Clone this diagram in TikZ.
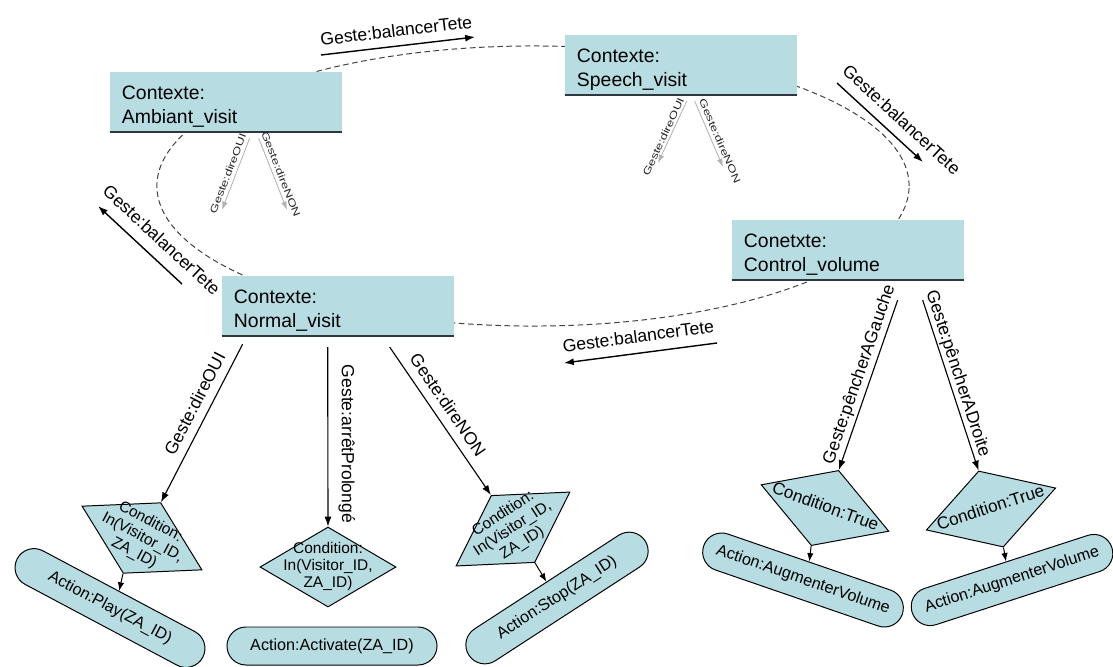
\documentclass[tikz,border=0pt]{standalone}
\usepackage{fontspec}
\setmainfont{Liberation Sans}
\newfontfamily\widefont[FakeStretch=1.35]{Liberation Sans}
\usetikzlibrary{arrows.meta,shapes.geometric}
\definecolor{ctxfill}{RGB}{183,221,227}
\definecolor{ctxrule}{RGB}{45,55,60}
\newcommand{\flattext}[1]{\smash{\raisebox{-0.25em}{\makebox[0pt]{\begin{tabular}{@{}c@{}}#1\end{tabular}}}}}
\newcommand{\ctxlabel}[2]{\rule{0pt}{16pt}#1\\#2}
\tikzset{ctxbox/.style={rectangle, fill=ctxfill, minimum width=5.8cm, minimum height=1.4cm, text width=5.2cm, inner xsep=0.3cm, align=left, font=\fontsize{13.8}{17}\selectfont},
 ctxline/.style={draw=ctxrule, line width=1.6pt},
 cyclepath/.style={draw=black!75, line width=0.7pt, dash pattern=on 4pt off 2.5pt},
 condshape/.style={diamond, draw=black, line width=0.7pt, fill=ctxfill, inner sep=0pt, minimum width=3.4cm, minimum height=2cm, font=\fontsize{11}{12.4}\selectfont},
 truecond/.style={condshape, font=\fontsize{12.2}{14}\selectfont},
 actshape/.style={rectangle, rounded corners=0.475cm, draw=black, line width=0.7pt, fill=ctxfill, minimum width=5.25cm, minimum height=0.95cm, inner xsep=2pt, inner ysep=1pt, font=\fontsize{11.5}{13}\selectfont},
 gesture/.style={draw=black, line width=0.8pt, -{Latex[length=7pt,width=5pt]}},
 balance/.style={gesture, line width=1pt},
 short/.style={draw=black, line width=0.7pt, -{Latex[length=6pt,width=4.5pt]}},
 faint/.style={draw=black!30, line width=0.6pt, -{Latex[length=6pt,width=4pt]}},
 gestlbl/.style={sloped, inner sep=1pt, font=\fontsize{12.5}{14}\selectfont},
 faintlbl/.style={sloped, inner sep=0.5pt, text=black!85, font=\widefont\fontsize{7}{8}\selectfont}}
\begin{document}
\begin{tikzpicture}[x=0.025cm, y=-0.025cm]
  \useasboundingbox (0,0) rectangle (1113,666);
  % ring of contexts
  \draw[cyclepath] (533,186) ellipse [x radius=9.4cm, y radius=3.5cm];
  \node[ctxbox] (ambiant) at (226,102) {\ctxlabel{Contexte:}{Ambiant\_visit}};
  \node[ctxbox] (speech) at (681,65) {\ctxlabel{Contexte:}{Speech\_visit}};
  \node[ctxbox] (control) at (848,250) {\ctxlabel{Conetxte:}{Control\_volume}};
  \node[ctxbox] (normal) at (338,306) {\ctxlabel{Contexte:}{Normal\_visit}};
  \foreach \c in {ambiant,speech,control,normal}
    \draw[ctxline] (\c.south west) -- (\c.south east);
  % conditions
  \node[condshape, rotate=-28] (condOui) at (142,538) {\flattext{Condition:\\In(Visitor\_ID,\\ZA\_ID)}};
  \node[condshape] (condProl) at (328,567) {\flattext{Condition:\\In(Visitor\_ID,\\ZA\_ID)}};
  \node[condshape, rotate=33] (condNon) at (513,529) {\flattext{Condition:\\In(Visitor\_ID,\\ZA\_ID)}};
  \node[truecond, rotate=-20] (condGauche) at (825,508) {\flattext{Condition:True}};
  \node[truecond, rotate=18] (condDroite) at (991,509) {\flattext{Condition:True}};
  % actions
  \node[actshape, rotate=-28] (actPlay) at (110,608) {Action:Play(ZA\_ID)};
  \node[actshape] (actActivate) at (332,646) {Action:Activate(ZA\_ID)};
  \node[actshape, rotate=33] (actStop) at (557,598) {Action:Stop(ZA\_ID)};
  \node[actshape, rotate=-19] (actGauche) at (803,580) {Action:AugmenterVolume};
  \node[actshape, rotate=18] (actDroite) at (1012,580) {Action:AugmenterVolume};
  % gestures of Normal_visit and Control_volume
  \draw[gesture] ([shift={(21,8)}]normal.south west) -- (condOui.north)
    node[gestlbl, pos=0.42, above=5pt] {Geste:direOUI};
  \draw[gesture] ([shift={(106,11)}]normal.south west) -- (condProl.north)
    node[gestlbl, pos=0.54, above=6pt] {Geste:arrêtProlongé};
  \draw[gesture] ([shift={(168,11)}]normal.south west) -- (condNon.north)
    node[gestlbl, pos=0.45, above=5pt] {Geste:direNON};
  \draw[gesture] ([shift={(166,20)}]control.south west) -- (condGauche.north)
    node[gestlbl, pos=0.46, above=1pt] {Geste:pêncherAGauche};
  \draw[gesture] ([shift={(191,20)}]control.south west) -- (condDroite.north)
    node[gestlbl, pos=0.45, above=0pt] {Geste:pêncherADroite};
  \draw[short] (condOui.south) -- (actPlay.north);
  \draw[short] (condNon.south) -- (actStop.north);
  \draw[short] (condGauche.south) -- (actGauche.north);
  \draw[short] (condDroite.south) -- (actDroite.north);
  % balancerTete between contexts
  \coordinate (topFrom) at (321,55);   \coordinate (topTo) at (475,37);
  \coordinate (rightFrom) at (837,83); \coordinate (rightTo) at (923,162);
  \coordinate (lowFrom) at (717,343);  \coordinate (lowTo) at (564,363);
  \coordinate (leftFrom) at (182,284); \coordinate (leftTo) at (98,206);
  \draw[balance] (topFrom) -- (topTo) node[gestlbl, midway, above=5pt] {Geste:balancerTete};
  \draw[balance] (rightFrom) -- (rightTo) node[gestlbl, pos=0.62, above=6pt] {Geste:balancerTete};
  \draw[balance] (lowFrom) -- (lowTo) node[gestlbl, midway, above=6pt] {Geste:balancerTete};
  \draw[balance] (leftFrom) -- (leftTo) node[gestlbl, pos=0.39, above=7pt] {Geste:balancerTete};
  % faint gestures of Ambiant_visit and Speech_visit
  \coordinate (ambOui) at (222,210); \coordinate (ambNon) at (287,210);
  \coordinate (spOui) at (658,163);  \coordinate (spNon) at (723,167);
  \draw[faint] ([shift={(140,6)}]ambiant.south west) -- (ambOui) node[faintlbl, pos=0.53, above=2pt] {Geste:direOUI};
  \draw[faint] ([shift={(149,6)}]ambiant.south west) -- (ambNon) node[faintlbl, pos=0.54, above=2pt] {Geste:direNON};
  \draw[faint] ([shift={(122,6)}]speech.south west) -- (spOui) node[faintlbl, pos=0.62, above=1pt] {Geste:direOUI};
  \draw[faint] ([shift={(130,6)}]speech.south west) -- (spNon) node[faintlbl, pos=0.65, above=2pt] {Geste:direNON};
\end{tikzpicture}
\end{document}
